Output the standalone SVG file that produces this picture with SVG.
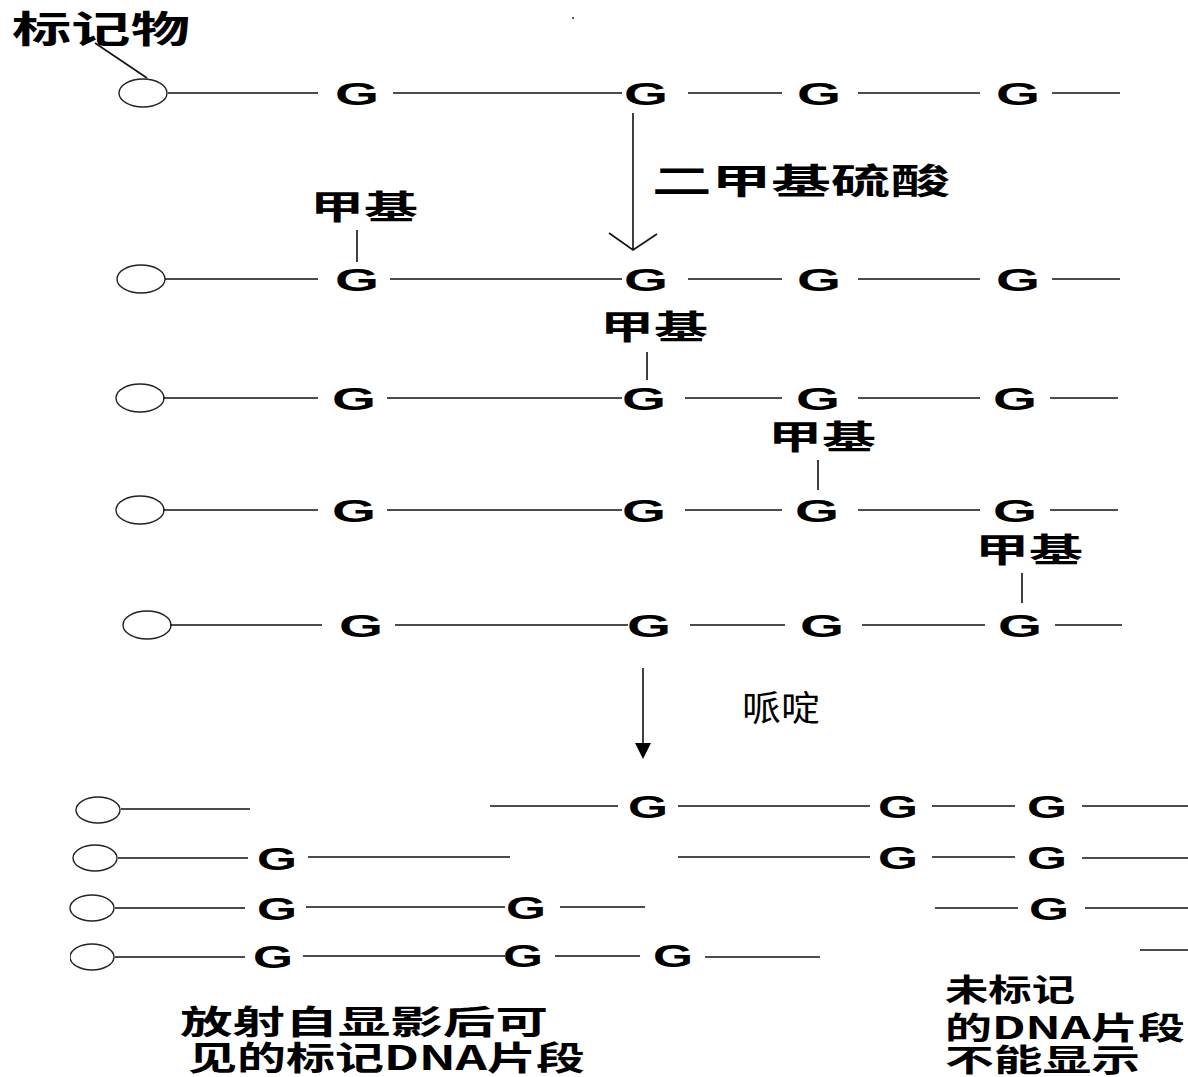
<svg xmlns="http://www.w3.org/2000/svg" width="1188" height="1077" viewBox="0 0 1188 1077">
<style>
.bg{fill:#fff}
.ln{stroke:#111;stroke-width:1.6;fill:none}
.c{fill:#fff;stroke:#222;stroke-width:1.4}
.g{font-family:"Liberation Sans",Arial,sans-serif;font-weight:bold;font-size:32px;fill:#000;text-anchor:middle}
.cn{font-family:"Noto Sans CJK SC",sans-serif;font-weight:bold;fill:#000}
.cr{font-family:"Noto Sans CJK SC",sans-serif;font-weight:normal;fill:#000}
.ah{fill:#000;stroke:none}
</style>
<rect class="bg" width="1188" height="1077"/>
<rect x="572" y="17" width="2" height="2" fill="#555"/>

<g id="label-marker"><text class="cn" x="12" y="43" font-size="37" textLength="178" lengthAdjust="spacingAndGlyphs">标记物</text></g>
<g id="label-dms"><text class="cn" x="652" y="194" font-size="35" textLength="298" lengthAdjust="spacingAndGlyphs">二甲基硫酸</text></g>
<g id="label-pip"><text class="cr" x="742" y="721" font-size="35" textLength="78" lengthAdjust="spacingAndGlyphs">哌啶</text></g>
<g id="label-m1"><text class="cn" x="310" y="219" font-size="33" textLength="108" lengthAdjust="spacingAndGlyphs">甲基</text></g>
<g id="label-m2"><text class="cn" x="600" y="339" font-size="33" textLength="108" lengthAdjust="spacingAndGlyphs">甲基</text></g>
<g id="label-m3"><text class="cn" x="768" y="449" font-size="33" textLength="108" lengthAdjust="spacingAndGlyphs">甲基</text></g>
<g id="label-m4"><text class="cn" x="975" y="562" font-size="33" textLength="108" lengthAdjust="spacingAndGlyphs">甲基</text></g>
<g id="label-visible"><text class="cn" x="180" y="1034" font-size="33" textLength="368" lengthAdjust="spacingAndGlyphs">放射自显影后可</text><text class="cn" x="188" y="1070" font-size="33" textLength="397" lengthAdjust="spacingAndGlyphs">见的标记DNA片段</text></g>
<g id="label-invisible"><text class="cn" x="945" y="1001" font-size="31" textLength="130" lengthAdjust="spacingAndGlyphs">未标记</text><text class="cn" x="945" y="1039" font-size="31" textLength="240" lengthAdjust="spacingAndGlyphs">的DNA片段</text><text class="cn" x="945" y="1071" font-size="31" textLength="195" lengthAdjust="spacingAndGlyphs">不能显示</text></g>

<g id="strand-1">
<ellipse class="c" cx="143" cy="93" rx="24" ry="14"/>
<path class="ln" d="M168,93H318M393,93H622M688,93H782M858,93H980M1052,93H1120"/>
<text class="g" x="357" y="105" textLength="44" lengthAdjust="spacingAndGlyphs">G</text>
<text class="g" x="646" y="105" textLength="44" lengthAdjust="spacingAndGlyphs">G</text>
<text class="g" x="819" y="105" textLength="44" lengthAdjust="spacingAndGlyphs">G</text>
<text class="g" x="1018" y="105" textLength="44" lengthAdjust="spacingAndGlyphs">G</text>
</g>
<g id="strand-2">
<ellipse class="c" cx="141" cy="279" rx="24" ry="14"/>
<path class="ln" d="M165,279H318M390,279H622M688,279H782M858,279H980M1052,279H1120"/>
<text class="g" x="357" y="291" textLength="44" lengthAdjust="spacingAndGlyphs">G</text>
<text class="g" x="646" y="291" textLength="44" lengthAdjust="spacingAndGlyphs">G</text>
<text class="g" x="819" y="291" textLength="44" lengthAdjust="spacingAndGlyphs">G</text>
<text class="g" x="1018" y="291" textLength="44" lengthAdjust="spacingAndGlyphs">G</text>
</g>
<g id="strand-3">
<ellipse class="c" cx="140" cy="398" rx="24" ry="14"/>
<path class="ln" d="M163,398H318M387,398H622M685,398H782M858,398H980M1050,398H1118"/>
<text class="g" x="354" y="410" textLength="44" lengthAdjust="spacingAndGlyphs">G</text>
<text class="g" x="644" y="410" textLength="44" lengthAdjust="spacingAndGlyphs">G</text>
<text class="g" x="818" y="410" textLength="44" lengthAdjust="spacingAndGlyphs">G</text>
<text class="g" x="1015" y="410" textLength="44" lengthAdjust="spacingAndGlyphs">G</text>
</g>
<g id="strand-4">
<ellipse class="c" cx="140" cy="510" rx="24" ry="14"/>
<path class="ln" d="M163,510H318M387,510H622M685,510H782M858,510H980M1050,510H1118"/>
<text class="g" x="354" y="522" textLength="44" lengthAdjust="spacingAndGlyphs">G</text>
<text class="g" x="644" y="522" textLength="44" lengthAdjust="spacingAndGlyphs">G</text>
<text class="g" x="817" y="522" textLength="44" lengthAdjust="spacingAndGlyphs">G</text>
<text class="g" x="1015" y="522" textLength="44" lengthAdjust="spacingAndGlyphs">G</text>
</g>
<g id="strand-5">
<ellipse class="c" cx="147" cy="625" rx="24" ry="14"/>
<path class="ln" d="M170,625H322M395,625H628M690,625H785M862,625H985M1055,625H1122"/>
<text class="g" x="361" y="637" textLength="44" lengthAdjust="spacingAndGlyphs">G</text>
<text class="g" x="649" y="637" textLength="44" lengthAdjust="spacingAndGlyphs">G</text>
<text class="g" x="822" y="637" textLength="44" lengthAdjust="spacingAndGlyphs">G</text>
<text class="g" x="1020" y="637" textLength="44" lengthAdjust="spacingAndGlyphs">G</text>
</g>

<g id="fragment-1">
<ellipse class="c" cx="98" cy="810" rx="22" ry="13"/>
<path class="ln" d="M121,809H250M490,806H618M678,806H870M932,806H1015M1082,806H1188"/>
<text class="g" x="648" y="818" textLength="40" lengthAdjust="spacingAndGlyphs">G</text>
<text class="g" x="898" y="818" textLength="40" lengthAdjust="spacingAndGlyphs">G</text>
<text class="g" x="1047" y="818" textLength="40" lengthAdjust="spacingAndGlyphs">G</text>
</g>
<g id="fragment-2">
<ellipse class="c" cx="95" cy="858" rx="22" ry="13"/>
<path class="ln" d="M118,858H248M308,857H510M678,857H870M932,857H1015M1082,858H1188"/>
<text class="g" x="277" y="870" textLength="40" lengthAdjust="spacingAndGlyphs">G</text>
<text class="g" x="898" y="869" textLength="40" lengthAdjust="spacingAndGlyphs">G</text>
<text class="g" x="1047" y="869" textLength="40" lengthAdjust="spacingAndGlyphs">G</text>
</g>
<g id="fragment-3">
<ellipse class="c" cx="92" cy="908" rx="22" ry="13"/>
<path class="ln" d="M115,908H245M306,907H505M560,907H645M935,908H1018M1085,908H1188"/>
<text class="g" x="277" y="920" textLength="40" lengthAdjust="spacingAndGlyphs">G</text>
<text class="g" x="526" y="919" textLength="40" lengthAdjust="spacingAndGlyphs">G</text>
<text class="g" x="1049" y="920" textLength="40" lengthAdjust="spacingAndGlyphs">G</text>
</g>
<g id="fragment-4">
<ellipse class="c" cx="92" cy="957" rx="22" ry="13"/>
<path class="ln" d="M115,957H245M303,956H505M555,956H640M705,957H820M1140,950H1188"/>
<text class="g" x="273" y="968" textLength="40" lengthAdjust="spacingAndGlyphs">G</text>
<text class="g" x="523" y="967" textLength="40" lengthAdjust="spacingAndGlyphs">G</text>
<text class="g" x="673" y="967" textLength="40" lengthAdjust="spacingAndGlyphs">G</text>
</g>
<rect x="0" y="940" width="70" height="35" fill="#fff"/>

<g id="connectors">
<path class="ln" d="M95,43L147,78"/>
<path class="ln" d="M633,113V250M609,233L633,250L657,234"/>
<path class="ln" d="M643,668V745"/>
<polygon class="ah" points="635,743 651,743 643,759"/>
<path class="ln" d="M357,230V262M647,352V380M818,460V490M1022,573V603"/>
</g>
</svg>
